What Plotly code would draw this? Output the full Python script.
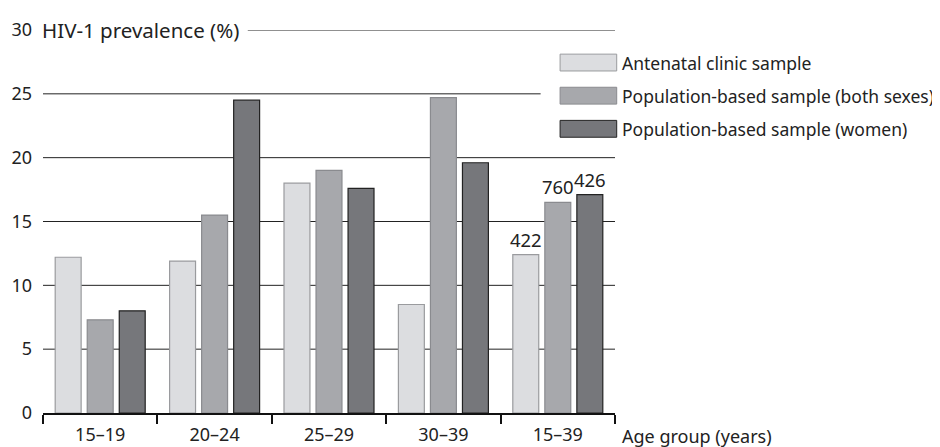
import plotly.graph_objects as go

categories = ["15–19", "20–24", "25–29", "30–39", "15–39"]
series_names = ["Antenatal clinic sample",
                "Population-based sample (both sexes)",
                "Population-based sample (women)"]
antenatal = [12.2, 11.9, 18.0, 8.5, 12.4]
pop_both = [7.3, 15.5, 19.0, 24.7, 16.5]
pop_women = [8.0, 24.5, 17.6, 19.6, 17.1]
sample_sizes_antenatal = ["", "", "", "", "422"]
sample_sizes_both = ["", "", "", "", "760"]
sample_sizes_women = ["", "", "", "", "426"]
y_ticks = [0, 5, 10, 15, 20, 25, 30]

fills = ["#dcdde0", "#a7a8ac", "#76777b"]
outlines = ["#9a9b9e", "#8a8b8f", "#222222"]
FONT = "Noto Sans"

fig = go.Figure()
for name, vals, txt, fc, lc in zip(series_names,
                                    [antenatal, pop_both, pop_women],
                                    [sample_sizes_antenatal, sample_sizes_both, sample_sizes_women],
                                    fills, outlines):
    fig.add_trace(go.Bar(x=categories, y=vals, name=name, text=txt,
                         textposition="outside", cliponaxis=False,
                         constraintext="none",
                         textfont=dict(size=18.5, color="#222"),
                         marker=dict(color=fc, line=dict(color=lc, width=1.2)),
                         showlegend=False))

# gridlines
for yv in y_ticks[1:]:
    x0, x1 = 0, 1
    if yv == 30:
        x0 = 0.358
    if yv == 25:
        x1 = 0.870
    fig.add_shape(type="line", xref="paper", yref="y", x0=x0, x1=x1, y0=yv, y1=yv,
                  line=dict(color="#222", width=1), layer="below")

# legend
for i, (name, fc, lc) in enumerate(zip(series_names, fills, outlines)):
    yc = 0.915 - i * 0.0865
    fig.add_shape(type="rect", xref="paper", yref="paper", x0=0.904, x1=1.003,
                  y0=yc - 0.022, y1=yc + 0.022, fillcolor=fc, line=dict(color=lc, width=1))
    fig.add_annotation(xref="paper", yref="paper", x=1.009, y=yc, text=name,
                       showarrow=False, xanchor="left", yanchor="middle",
                       font=dict(size=17.5, color="#222", family=FONT))

fig.add_annotation(xref="paper", yref="y", x=0, y=30, text="HIV-1 prevalence (%)",
                   showarrow=False, xanchor="left", yanchor="middle", xshift=-3,
                   font=dict(size=20.5, color="#222", family=FONT))
fig.add_annotation(xref="paper", yref="paper", x=1.009, y=0, yshift=-23,
                   text="Age group (years)", showarrow=False, xanchor="left",
                   yanchor="middle", font=dict(size=18, color="#222", family=FONT))

fig.update_layout(
    width=932, height=439,
    margin=dict(l=35, r=325, t=22, b=34, autoexpand=False),
    paper_bgcolor="white", plot_bgcolor="white",
    barmode="group", bargap=0.16, bargroupgap=0.19,
    font=dict(family=FONT, size=18, color="#222"),
)
fig.update_xaxes(showgrid=False, showline=True, linecolor="#111", linewidth=1.5,
                 ticks="outside", tickson="boundaries", ticklen=9, tickcolor="#111",
                 tickwidth=1.5, tickfont=dict(size=18), ticklabelstandoff=5,
                 automargin=False)
fig.update_yaxes(range=[0, 30], tickvals=y_ticks, showgrid=False, zeroline=False,
                 showline=False, ticks="", ticklabelstandoff=10,
                 tickfont=dict(size=18), automargin=False)

fig.write_html("out.html")
